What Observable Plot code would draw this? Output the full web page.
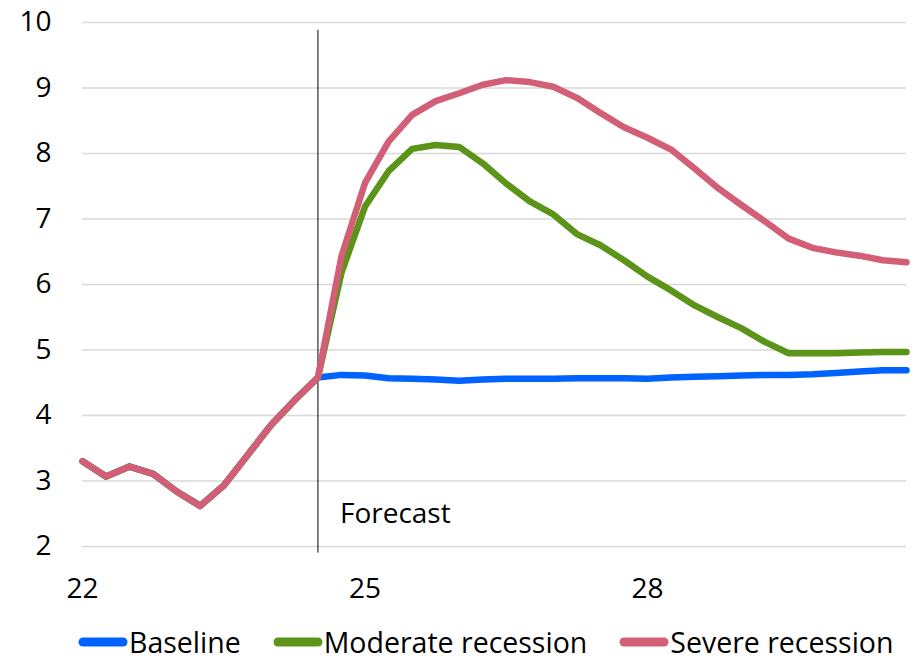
<!DOCTYPE html>
<html>
<head>
<meta charset="utf-8">
<script src="https://cdn.jsdelivr.net/npm/d3@7"></script>
<script src="https://cdn.jsdelivr.net/npm/@observablehq/plot@0.6"></script>
<style>
  html, body { margin: 0; padding: 0; background: #fff; }
  body { width: 921px; height: 663px; overflow: hidden; font-family: "Open Sans", sans-serif; }
  #legend { display: flex; justify-content: flex-start; align-items: center; font-size: 28.5px; color: #000; margin-top: 18px; padding-left: 78px; line-height: 28px; white-space: nowrap; }
  .item { display: flex; align-items: center; margin-right: 32px; }
  .item svg { margin-right: 1px; }
</style>
</head>
<body>
<div id="chart"></div>
<div id="legend"></div>
<script>
const quarterLabels = [
  "22Q1","22Q2","22Q3","22Q4","23Q1","23Q2","23Q3","23Q4",
  "24Q1","24Q2","24Q3","24Q4","25Q1","25Q2","25Q3","25Q4",
  "26Q1","26Q2","26Q3","26Q4","27Q1","27Q2","27Q3","27Q4",
  "28Q1","28Q2","28Q3","28Q4","29Q1","29Q2","29Q3","29Q4",
  "30Q1","30Q2","30Q3","30Q4"
];
const history = [3.30, 3.07, 3.22, 3.11, 2.84, 2.62, 2.93, 3.39, 3.85, 4.23, 4.58];
const baselineForecast = [4.62, 4.61, 4.57, 4.56, 4.55, 4.53, 4.55, 4.56, 4.56, 4.56, 4.57, 4.57, 4.57, 4.56, 4.58, 4.59, 4.60, 4.61, 4.62, 4.62, 4.63, 4.65, 4.67, 4.69, 4.69];
const moderateForecast = [6.18, 7.19, 7.73, 8.07, 8.13, 8.10, 7.85, 7.54, 7.27, 7.07, 6.77, 6.60, 6.37, 6.12, 5.91, 5.68, 5.50, 5.33, 5.12, 4.95, 4.95, 4.95, 4.96, 4.97, 4.97];
const severeForecast = [6.43, 7.55, 8.18, 8.59, 8.80, 8.92, 9.05, 9.12, 9.09, 9.02, 8.85, 8.62, 8.40, 8.24, 8.06, 7.77, 7.47, 7.21, 6.96, 6.70, 6.56, 6.49, 6.44, 6.37, 6.34];
const seriesNames = ["Baseline", "Moderate recession", "Severe recession"];
const seriesColors = ["#0062ff", "#5b9418", "#d35f77"];
const xTicks = [22, 25, 28];
const yTicks = [2, 3, 4, 5, 6, 7, 8, 9, 10];
const forecastStart = ["24Q3"];
const forecastLabel = ["Forecast"];

const toT = q => +q.slice(0, 2) + (+q[3] - 1) / 4;

const seriesValues = [
  history.concat(baselineForecast),
  history.concat(moderateForecast),
  history.concat(severeForecast)
];
const data = [];
seriesNames.forEach((name, s) => {
  seriesValues[s].forEach((v, i) => data.push({series: name, t: toT(quarterLabels[i]), value: v}));
});

const chart = Plot.plot({
  width: 921,
  height: 610,
  marginLeft: 82,
  marginRight: 15,
  marginTop: 22,
  marginBottom: 64,
  style: {fontFamily: "'Open Sans', sans-serif", fontSize: "28px", color: "#000", background: "#fff", overflow: "visible"},
  x: {domain: [22, 30.75], ticks: xTicks, tickFormat: d => String(d), tickSize: 0, tickPadding: 32, label: null},
  y: {domain: [2, 10], ticks: yTicks, tickSize: 0, tickPadding: 31, label: null},
  color: {domain: seriesNames, range: seriesColors},
  marks: [
    Plot.gridY(yTicks, {stroke: "#d9d9d9", strokeOpacity: 1, strokeWidth: 1.3}),
    Plot.ruleX(forecastStart, {x: d => toT(d), y1: 1.9, y2: 9.88, stroke: "#000", strokeWidth: 1}),
    Plot.line(data, {x: "t", y: "value", z: "series", stroke: "series", strokeWidth: 6.5, strokeLinejoin: "round"}),
    Plot.text(forecastLabel, {x: toT(forecastStart[0]), y: 2.5, text: d => d, textAnchor: "start", dx: 22, fill: "#000", fontSize: 28})
  ]
});
document.getElementById("chart").appendChild(chart);

const legend = document.getElementById("legend");
seriesNames.forEach((name, i) => {
  const item = document.createElement("div");
  item.className = "item";
  item.innerHTML = `<svg width="50" height="12"><line x1="5" y1="6" x2="45" y2="6" stroke="${seriesColors[i]}" stroke-width="9" stroke-linecap="round"/></svg><span>${name}</span>`;
  legend.appendChild(item);
});
</script>
</body>
</html>
